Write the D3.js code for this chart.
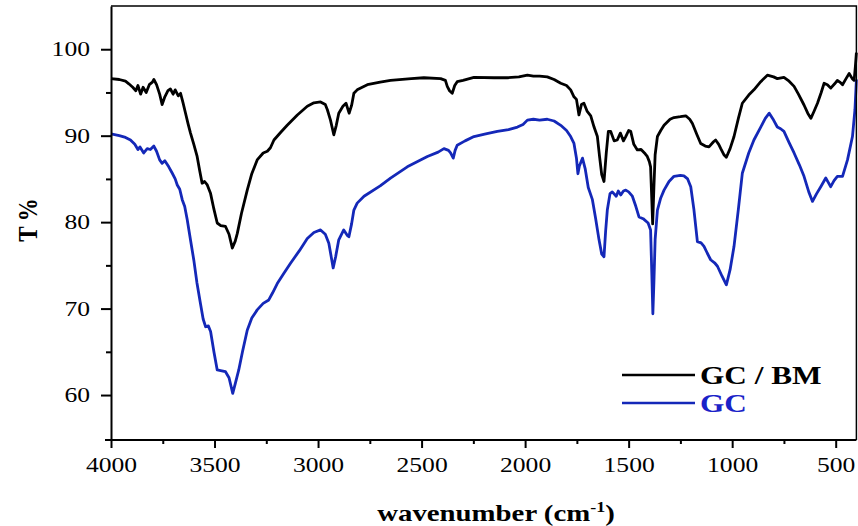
<!DOCTYPE html>
<html>
<head>
<meta charset="utf-8">
<script src="https://cdn.jsdelivr.net/npm/d3@7"></script>
<style>
  body { margin: 0; background: #fff; }
  svg { display: block; }
</style>
</head>
<body>
<div class="canvas"></div>
<script>
// GC / BM spectrum (black)
const gcbmWave = [4000, 3960, 3930, 3914, 3895, 3880, 3870, 3857, 3845, 3830, 3815, 3800, 3793, 3780, 3765, 3753, 3740, 3725, 3713, 3700, 3690, 3675, 3664, 3652, 3640, 3628, 3616, 3600, 3584, 3572, 3560, 3548, 3535, 3519, 3503, 3487, 3470, 3447, 3430, 3414, 3400, 3390, 3370, 3342, 3320, 3294, 3265, 3245, 3230, 3213, 3180, 3149, 3100, 3052, 3020, 2988, 2965, 2955, 2940, 2924, 2912, 2900, 2880, 2865, 2850, 2838, 2827, 2811, 2762, 2700, 2650, 2550, 2489, 2408, 2385, 2376, 2365, 2352, 2340, 2328, 2300, 2247, 2150, 2086, 2030, 1989, 1960, 1930, 1893, 1860, 1828, 1800, 1780, 1764, 1752, 1740, 1728, 1716, 1700, 1683, 1667, 1651, 1640, 1630, 1619, 1608, 1598, 1587, 1570, 1555, 1540, 1525, 1514, 1500, 1490, 1475, 1458, 1440, 1420, 1410, 1400, 1394, 1388, 1384, 1378, 1372, 1361, 1345, 1329, 1300, 1281, 1250, 1224, 1205, 1192, 1170, 1152, 1130, 1112, 1090, 1080, 1065, 1055, 1040, 1028, 1010, 991, 970, 951, 920, 895, 862, 830, 800, 782, 750, 725, 701, 680, 653, 635, 620, 605, 588, 570, 556, 540, 524, 505, 492, 480, 467, 450, 435, 420, 411, 405, 400]
const gcbmT = [96.6, 96.5, 96.3, 96.0, 95.6, 95.2, 95.8, 94.8, 95.6, 95.0, 95.9, 96.2, 96.5, 95.9, 94.8, 93.6, 94.5, 95.2, 95.4, 94.8, 95.3, 94.6, 94.9, 93.8, 92.6, 91.4, 90.3, 89.0, 87.6, 86.0, 84.5, 84.7, 84.3, 83.3, 81.5, 79.9, 79.6, 79.5, 78.6, 77.0, 77.8, 78.7, 81.0, 83.7, 85.6, 87.2, 88.0, 88.2, 88.6, 89.5, 90.4, 91.2, 92.4, 93.4, 93.8, 93.9, 93.6, 93.0, 91.8, 90.1, 91.2, 92.6, 93.4, 93.75, 92.6, 93.5, 94.9, 95.3, 95.9, 96.2, 96.4, 96.6, 96.7, 96.6, 96.4, 95.7, 95.2, 94.9, 95.8, 96.25, 96.4, 96.75, 96.7, 96.7, 96.8, 97.0, 96.9, 96.9, 96.8, 96.5, 96.06, 95.8, 95.3, 94.5, 94.2, 92.4, 93.6, 93.75, 92.8, 92.3, 91.0, 89.9, 87.5, 85.5, 84.7, 88.0, 90.5, 90.5, 89.4, 89.5, 90.3, 89.4, 89.9, 90.6, 90.5, 89.0, 88.35, 88.4, 87.9, 87.6, 87.0, 86.4, 82.5, 79.8, 84.0, 87.8, 89.9, 90.6, 91.2, 91.9, 92.1, 92.2, 92.3, 91.9, 91.4, 90.1, 89.1, 88.8, 88.7, 89.3, 89.5, 89.0, 88.5, 87.8, 87.5, 88.5, 89.9, 92.0, 93.75, 94.7, 95.3, 96.25, 97.0, 96.8, 96.6, 96.75, 96.3, 95.7, 94.8, 93.55, 92.6, 92.0, 92.8, 93.75, 95.0, 96.06, 95.9, 95.5, 96.0, 96.4, 96.2, 95.9, 96.6, 97.2, 96.6, 96.4, 98.0, 99.6]

// GC spectrum (blue)
const gcWave = [4000, 3960, 3930, 3906, 3885, 3870, 3860, 3842, 3825, 3810, 3793, 3780, 3765, 3753, 3740, 3721, 3704, 3690, 3680, 3668, 3656, 3644, 3632, 3615, 3600, 3585, 3568, 3555, 3543, 3530, 3519, 3503, 3487, 3465, 3447, 3430, 3412, 3398, 3383, 3365, 3342, 3320, 3294, 3265, 3238, 3220, 3197, 3165, 3133, 3090, 3052, 3020, 2988, 2965, 2948, 2935, 2927, 2915, 2900, 2876, 2860, 2851, 2838, 2827, 2811, 2778, 2700, 2650, 2569, 2472, 2420, 2392, 2370, 2360, 2347, 2338, 2328, 2290, 2247, 2190, 2134, 2080, 2037, 2010, 1989, 1960, 1930, 1893, 1860, 1828, 1800, 1780, 1764, 1752, 1745, 1738, 1723, 1710, 1695, 1675, 1660, 1643, 1630, 1619, 1611, 1603, 1590, 1579, 1560, 1550, 1538, 1525, 1514, 1500, 1482, 1465, 1450, 1430, 1406, 1394, 1388, 1383, 1378, 1372, 1361, 1345, 1329, 1305, 1281, 1250, 1233, 1215, 1200, 1185, 1168, 1150, 1136, 1120, 1104, 1085, 1071, 1050, 1028, 1010, 991, 970, 951, 920, 895, 862, 840, 821, 800, 782, 766, 750, 725, 701, 675, 653, 630, 612, 592, 572, 548, 536, 524, 508, 492, 467, 443, 419, 407, 400]
const gcT = [90.2, 90.0, 89.8, 89.5, 89.0, 88.4, 88.7, 88.0, 88.5, 88.4, 88.8, 88.2, 87.2, 86.8, 87.1, 86.4, 85.65, 85.0, 84.3, 83.8, 82.6, 81.8, 80.3, 77.8, 75.6, 73.0, 70.6, 68.8, 67.9, 68.0, 67.35, 65.0, 62.9, 62.8, 62.7, 62.0, 60.2, 61.5, 62.9, 65.0, 67.5, 68.9, 69.85, 70.6, 71.0, 71.8, 72.9, 74.1, 75.25, 76.7, 78.1, 78.8, 79.1, 78.6, 77.55, 75.8, 74.7, 76.0, 77.95, 79.1, 78.5, 78.3, 79.8, 81.4, 82.2, 83.0, 84.2, 85.1, 86.4, 87.6, 88.1, 88.5, 88.3, 88.0, 87.4, 88.3, 88.9, 89.4, 89.9, 90.2, 90.5, 90.7, 91.0, 91.3, 91.8, 91.9, 91.8, 91.9, 91.7, 91.2, 90.6, 89.9, 89.1, 87.4, 85.6, 86.5, 87.4, 86.2, 84.0, 82.6, 80.5, 77.95, 76.3, 76.0, 79.0, 81.4, 83.3, 83.5, 83.0, 83.6, 83.15, 83.6, 83.7, 83.5, 83.0, 81.8, 80.6, 80.4, 79.9, 79.1, 74.0, 69.4, 73.0, 78.0, 81.4, 82.8, 83.7, 84.7, 85.3, 85.4, 85.35, 85.0, 84.1, 81.5, 77.75, 77.6, 77.2, 76.4, 75.65, 75.3, 74.9, 73.8, 72.75, 74.5, 77.2, 81.5, 85.65, 88.0, 89.5, 91.0, 92.0, 92.6, 91.8, 91.0, 90.8, 90.5, 89.2, 88.0, 86.6, 85.3, 83.5, 82.4, 83.3, 84.1, 85.1, 84.6, 84.1, 84.8, 85.3, 85.3, 87.2, 89.9, 93.0, 96.5]

const xMajorTicks = [4000, 3500, 3000, 2500, 2000, 1500, 1000, 500]
const xMinorTicks = [3750, 3250, 2750, 2250, 1750, 1250, 750]
const yMajorTicks = [60, 70, 80, 90, 100]
const yMinorTicks = [65, 75, 85, 95]
const seriesNames = ['GC / BM', 'GC']
const seriesColors = ['#000000', '#1428b8']

const dimensions = { width: 858, height: 526 }
const plot = { left: 111, right: 856.4, top: 6, bottom: 440 }
const serif = '"Liberation Serif"'
const stretch = 1.22 // the reference text is drawn wide

const svg = d3
  .select('.canvas')
  .append('svg')
  .attr('width', dimensions.width)
  .attr('height', dimensions.height)
  .style('background', '#fff')

const x = d3.scaleLinear().domain([4000, 400]).range([plot.left, plot.right])
const y = d3.scaleLinear().domain([54.8, 105]).range([plot.bottom, plot.top])

// spectra
const line = d3
  .line()
  .x((d) => x(d[0]))
  .y((d) => y(d[1]))

const series = [d3.zip(gcbmWave, gcbmT), d3.zip(gcWave, gcT)]

// blue first so the black trace sits on top where they touch
;[1, 0].forEach((i) => {
  svg
    .append('path')
    .datum(series[i])
    .attr('fill', 'none')
    .attr('stroke', seriesColors[i])
    .attr('stroke-width', 2.8)
    .attr('stroke-linejoin', 'round')
    .attr('d', line)
})

// frame (top + right)
svg
  .append('path')
  .attr('d', `M${plot.left},${plot.top}H${plot.right}V${plot.bottom}`)
  .attr('fill', 'none')
  .attr('stroke', '#000')
  .attr('stroke-width', 1.5)

// bottom axis
const xAxis = svg
  .append('g')
  .attr('transform', `translate(0, ${plot.bottom})`)
  .call(
    d3.axisBottom(x).tickValues(xMajorTicks).tickSize(8).tickSizeOuter(0).tickPadding(9).tickFormat(d3.format('d'))
  )
xAxis.select('.domain').attr('d', `M${plot.left - 6},0H${plot.right}`).attr('stroke-width', 2)
xAxis.selectAll('line').attr('stroke-width', 2)
xAxis
  .selectAll('text')
  .style('font-family', serif)
  .style('font-size', '21px')
  .attr('fill', '#000')
  .attr('transform', `scale(${stretch},1)`)

svg
  .append('g')
  .attr('transform', `translate(0, ${plot.bottom})`)
  .call(d3.axisBottom(x).tickValues(xMinorTicks).tickSize(4).tickFormat(''))
  .call((g) => g.select('.domain').remove())
  .selectAll('line')
  .attr('stroke-width', 2)

// left axis
const yAxis = svg
  .append('g')
  .attr('transform', `translate(${plot.left}, 0)`)
  .call(d3.axisLeft(y).tickValues(yMajorTicks).tickSize(10).tickSizeOuter(0).tickPadding(11))
yAxis.select('.domain').attr('stroke-width', 2)
yAxis.selectAll('line').attr('stroke-width', 2)
yAxis
  .selectAll('text')
  .style('font-family', serif)
  .style('font-size', '21px')
  .attr('fill', '#000')
  .attr('x', -21 / stretch)
  .attr('transform', `scale(${stretch},1)`)

svg
  .append('g')
  .attr('transform', `translate(${plot.left}, 0)`)
  .call(d3.axisLeft(y).tickValues(yMinorTicks).tickSize(5).tickFormat(''))
  .call((g) => g.select('.domain').remove())
  .selectAll('line')
  .attr('stroke-width', 2)

// axis titles
const xTitle = svg
  .append('text')
  .attr('transform', `translate(496, 521) scale(1.2,1)`)
  .attr('text-anchor', 'middle')
  .style('font-family', serif)
  .attr('font-weight', 'bold')
  .attr('font-size', 24)
xTitle.append('tspan').text('wavenumber (cm')
xTitle.append('tspan').attr('font-size', 15).attr('dy', -9).text('-1')
xTitle.append('tspan').attr('dy', 9).text(')')

svg
  .append('text')
  .attr('transform', `translate(37, 220) scale(${stretch},1) rotate(-90)`)
  .attr('text-anchor', 'middle')
  .style('font-family', serif)
  .attr('font-weight', 'bold')
  .attr('font-size', 23)
  .text('T %')

// legend
const legend = svg.append('g').attr('transform', 'translate(622, 375)')
seriesNames.forEach((name, i) => {
  const row = legend.append('g').attr('transform', `translate(0, ${i * 28})`)
  row
    .append('line')
    .attr('x1', 0)
    .attr('x2', 73)
    .attr('stroke', seriesColors[i])
    .attr('stroke-width', 2.6)
  row
    .append('text')
    .attr('transform', `translate(78, 9) scale(1.25,1)`)
    .style('font-family', serif)
    .attr('font-weight', 'bold')
    .attr('font-size', 25)
    .attr('fill', i === 0 ? '#000' : '#1a22c8')
    .text(name)
})
</script>
</body>
</html>
